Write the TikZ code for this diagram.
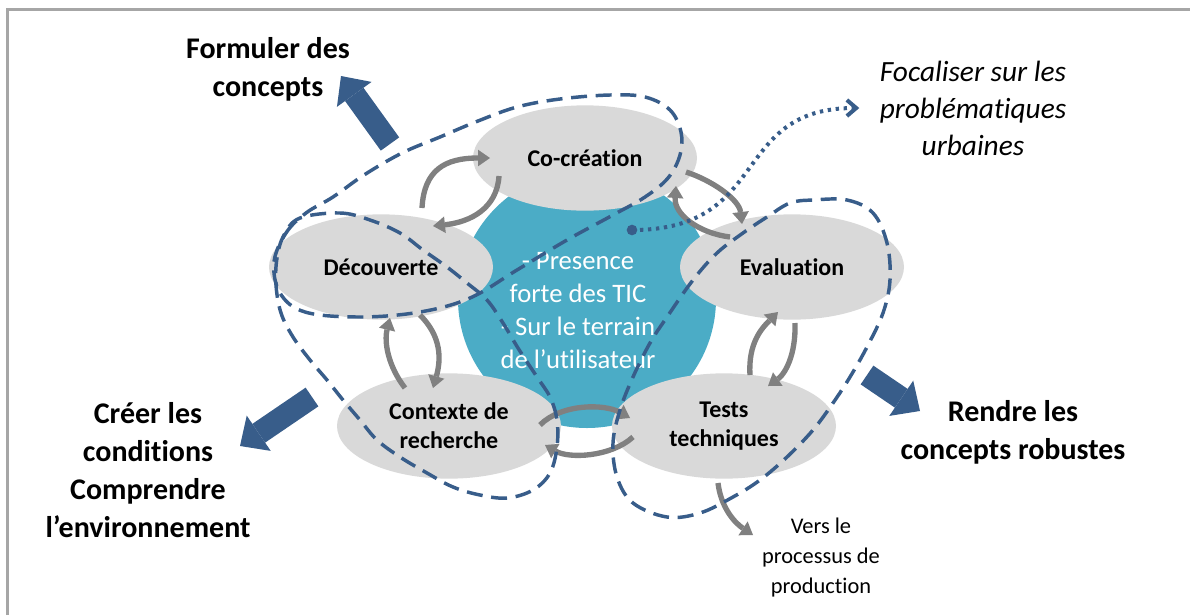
\documentclass[tikz,border=0pt]{standalone}
\usepackage{fontspec}
\setmainfont{Carlito}[Ligatures=NoCommon]
\usetikzlibrary{arrows.meta,calc,shapes.geometric}

\definecolor{phasegrey}{RGB}{217,217,217}
\definecolor{ticblue}{RGB}{75,172,198}
\definecolor{loopblue}{RGB}{56,93,138}
\definecolor{cyclegrey}{RGB}{128,128,128}
\definecolor{framegrey}{RGB}{166,166,166}

\tikzset{every picture/.style={line width=0.75pt}}
\tikzset{
  phase/.style={ellipse, fill=phasegrey, minimum width=168pt, minimum height=79pt, inner sep=0pt, align=center, font=\fontsize{18pt}{21.75pt}\selectfont\bfseries},
  cycarrow/.style={draw=cyclegrey, line width=4pt, -{Triangle[length=9pt,width=12.5pt,line width=0pt]}},
  loopline/.style={draw=loopblue, line width=2.6pt, dash pattern=on 12pt off 6.5pt},
  focusline/.style={draw=loopblue, line width=3pt, dash pattern=on 2.5pt off 3.5pt, shorten >=15pt, -{Straight Barb[length=7pt,width=12pt]}},
  bigarrow/.style={draw=loopblue, line width=17pt, -{Triangle[length=17pt,width=32pt,line width=0pt]}},
  bigtext/.style={align=center, inner sep=0pt, font=\fontsize{22.5pt}{28.5pt}\selectfont\bfseries},
}

\begin{document}
\begin{tikzpicture}[x=0.75pt,y=0.75pt,yscale=-1,xscale=1]
\useasboundingbox (0,0) rectangle (1190,615);

%Frame
\draw [framegrey, line width=2.25pt] (7,615) -- (7,9) -- (1190,9) ;

%Shape: Circle
\node [circle, fill=ticblue, minimum size=193.5pt, inner sep=0pt] (tic) at (587,299) {};
% Text Node
\node [align=center, inner sep=0pt, text=white, font=\fontsize{20pt}{24.75pt}\selectfont] (tictext) at (578,311) {- Presence\\forte des TIC\\- Sur le terrain\\de l’utilisateur};

%Shape: Ellipse
\node [phase] (cocr) at (585,158) {Co-création};
\node [phase] (dec) at (381,267) {Découverte};
\node [phase] (eval) at (792,267) {Evaluation};
\node [phase] (cont) at (449,426) {Contexte de\\recherche};
\node [phase] (tests) at (724,426) {Tests\\techniques};

%Curve Lines
\draw [cycarrow] ($(dec)+(41,-59)$) .. controls +(2,-38) and +(-45,0) .. ($(cocr)+(-95,0)$) ;
\draw [cycarrow] ($(cocr)+(-86,18)$) .. controls +(-2,32) and +(38,-4) .. ($(dec)+(52,-41)$) ;
\draw [cycarrow] ($(cocr)+(101,14)$) .. controls +(25,8) and +(-3,-25) .. ($(eval)+(-50,-43)$) ;
\draw [cycarrow] ($(eval)+(-62,-30)$) .. controls +(-32,-4) and +(-2,28) .. ($(cocr)+(91,28)$) ;
\draw [cycarrow] ($(tests)+(26,-51)$) .. controls +(-2,-32) and +(-16,16) .. ($(eval)+(-14,45)$) ;
\draw [cycarrow] ($(eval)+(3,56)$) .. controls +(1,32) and +(17,-12) .. ($(tests)+(44,-40)$) ;
\draw [cycarrow] ($(cont)+(91,-1)$) .. controls +(22,-22) and +(-25,-14) .. ($(tests)+(-94,-8)$) ;
\draw [cycarrow] ($(tests)+(-91,11)$) .. controls +(-22,20) and +(24,14) .. ($(cont)+(96,19)$) ;
\draw [cycarrow] ($(cont)+(-44,-38)$) .. controls +(-17,-22) and +(-6,24) .. ($(dec)+(9,51)$) ;
\draw [cycarrow] ($(dec)+(39,48)$) .. controls +(22,22) and +(8,-28) .. ($(cont)+(-16,-38)$) ;
\coordinate (prod) at (753,535);
\draw [cycarrow] ($(tests)+(-6,57)$) .. controls +(3,25) and +(-18,-12) .. (prod) ;

%Dashed loops
\draw [loopline] plot [smooth cycle, tension=0.6] coordinates {(274,262) (286,233) (306,213) (333,197) (364,175) (402,153) (440,137) (478,121) (517,107) (560,99) (610,95) (645,97) (670,110) (681,132) (680,155) (668,178) (645,197) (613,215) (567,240) (517,270) (470,298) (420,312) (360,317) (305,312) (280,293)} ;
\draw [loopline] plot [smooth cycle, tension=0.6] coordinates {(300,218) (340,213) (370,220) (400,233) (423,250) (447,267) (467,283) (487,300) (503,323) (518,348) (537,377) (550,397) (557,420) (557,447) (550,473) (533,490) (507,498) (480,495) (453,487) (427,473) (400,457) (377,440) (360,420) (343,400) (327,380) (310,360) (293,337) (281,313) (276,285) (277,258) (284,235)} ;
\draw [loopline] plot [smooth cycle, tension=0.6] coordinates {(813,200) (847,200) (873,213) (887,243) (890,280) (883,313) (867,347) (850,377) (833,403) (813,430) (787,457) (760,480) (733,497) (700,513) (667,517) (633,503) (617,477) (613,443) (620,410) (633,377) (650,343) (667,317) (693,280) (717,253) (743,233) (767,217) (790,203)} ;

% Text Node
\node [align=center, inner sep=0pt, font=\fontsize{22pt}{27.75pt}\selectfont\itshape] (focus) at (973,108) {Focaliser sur les\\problématiques\\urbaines};
%Dotted arrow
\node [circle, fill=loopblue, minimum size=8pt, inner sep=0pt] (dot) at (632,230) {};
\draw [focusline] (dot.center) .. controls +(140,0) and +(-150,0) .. (focus.west) ;

%Block arrows
\coordinate (frm1) at (390,144);
\coordinate (frm2) at (341,76);
\coordinate (crt1) at (312,397);
\coordinate (crt2) at (240,446);
\coordinate (rnd1) at (867,375);
\coordinate (rnd2) at (920,411);
\draw [bigarrow] (frm1) -- (frm2) ;
\draw [bigarrow] (crt1) -- (crt2) ;
\draw [bigarrow] (rnd1) -- (rnd2) ;

% Text Node
\node [bigtext] (frmtext) at (268,69) {Formuler des\\concepts};
% Text Node
\node [bigtext] (crttext) at (148,470) {Créer les\\conditions\\Comprendre\\l’environnement};
% Text Node
\node [bigtext] (rndtext) at (1013,432) {Rendre les\\concepts robustes};
% Text Node
\node [align=center, inner sep=0pt, font=\fontsize{16.8pt}{22.5pt}\selectfont] (prodtext) at (821,558) {Vers le\\processus de\\production};

\end{tikzpicture}
\end{document}
